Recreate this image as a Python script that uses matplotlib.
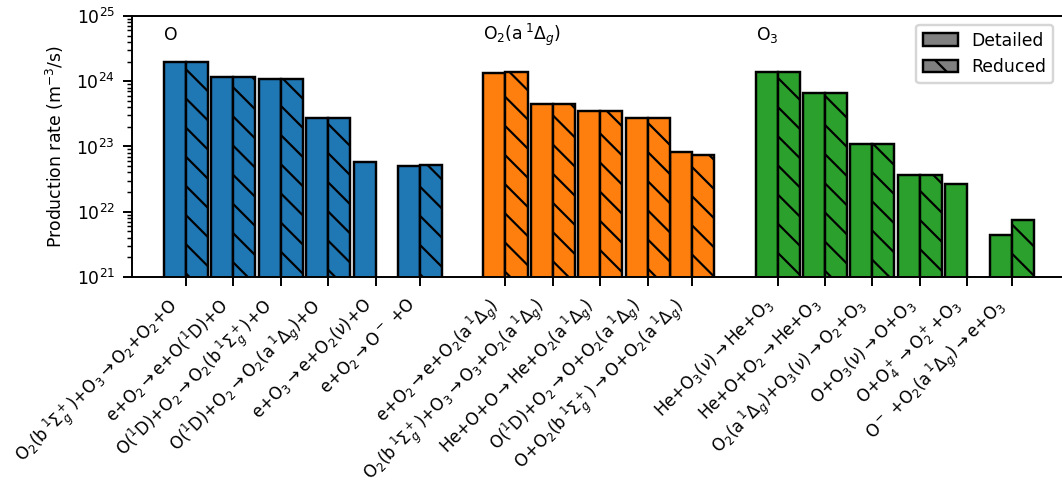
import numpy as np
import matplotlib
matplotlib.use("Agg")
import matplotlib.pyplot as plt
from matplotlib.patches import Patch

# Production reactions grouped by product species
species = ["O", r"O$_2$(a$\,^1\Delta_g$)", r"O$_3$"]
colors = ["#1f77b4", "#ff7f0e", "#2ca02c"]

labels_O = [
    r"O$_2$(b$\,^1\Sigma_g^+$)+O$_3$$\rightarrow$O$_2$+O$_2$+O",
    r"e+O$_2$$\rightarrow$e+O($^1$D)+O",
    r"O($^1$D)+O$_2$$\rightarrow$O$_2$(b$\,^1\Sigma_g^+$)+O",
    r"O($^1$D)+O$_2$$\rightarrow$O$_2$(a$\,^1\Delta_g$)+O",
    r"e+O$_3$$\rightarrow$e+O$_2$($\nu$)+O",
    r"e+O$_2$$\rightarrow$O$^-$ +O",
]
detailed_O = [1.95e24, 1.15e24, 1.08e24, 2.73e23, 5.7e22, 5.06e22]
reduced_O = [2.0e24, 1.15e24, 1.08e24, 2.73e23, np.nan, 5.25e22]

labels_a = [
    r"e+O$_2$$\rightarrow$e+O$_2$(a$\,^1\Delta_g$)",
    r"O$_2$(b$\,^1\Sigma_g^+$)+O$_3$$\rightarrow$O$_3$+O$_2$(a$\,^1\Delta_g$)",
    r"He+O+O$\rightarrow$He+O$_2$(a$\,^1\Delta_g$)",
    r"O($^1$D)+O$_2$$\rightarrow$O+O$_2$(a$\,^1\Delta_g$)",
    r"O+O$_2$(b$\,^1\Sigma_g^+$)$\rightarrow$O+O$_2$(a$\,^1\Delta_g$)",
]
detailed_a = [1.32e24, 4.43e23, 3.5e23, 2.7e23, 8.2e22]
reduced_a = [1.38e24, 4.55e23, 3.55e23, 2.7e23, 7.4e22]

labels_O3 = [
    r"He+O$_3$($\nu$)$\rightarrow$He+O$_3$",
    r"He+O+O$_2$$\rightarrow$He+O$_3$",
    r"O$_2$(a$\,^1\Delta_g$)+O$_3$($\nu$)$\rightarrow$O$_2$+O$_3$",
    r"O+O$_3$($\nu$)$\rightarrow$O+O$_3$",
    r"O+O$_4^+$$\rightarrow$O$_2^+$+O$_3$",
    r"O$^-$ +O$_2$(a$\,^1\Delta_g$)$\rightarrow$e+O$_3$",
]
detailed_O3 = [1.38e24, 6.5e23, 1.08e23, 3.68e22, 2.62e22, 4.38e21]
reduced_O3 = [1.38e24, 6.5e23, 1.11e23, 3.65e22, np.nan, 7.5e21]

groups = [
    (labels_O, detailed_O, reduced_O),
    (labels_a, detailed_a, reduced_a),
    (labels_O3, detailed_O3, reduced_O3),
]

plt.rcParams["font.family"] = "DejaVu Sans"
plt.rcParams["font.size"] = 7.1
plt.rcParams["hatch.linewidth"] = 0.9

dpi = 175
fig = plt.figure(figsize=(1062 / dpi, 488 / dpi), dpi=dpi)
ax = fig.add_axes([0.1243, 0.4324, 0.8757, 0.5348])

width = 0.465
group_gap = 1.8
tail_step = 0.94

start = 0.0
all_pos, all_labels = [], []
for (labels, det, red), col, name in zip(groups, colors, species):
    n = len(labels)
    pos = np.arange(n, dtype=float)
    pos[-1] = pos[-2] + tail_step
    pos += start
    ax.bar(pos, det, width=-width, align="edge", color=col,
           edgecolor="black", linewidth=1.0)
    ax.bar(pos, red, width=width, align="edge", color=col,
           edgecolor="black", linewidth=1.0, hatch="\\\\")
    ax.text(pos[0] - width, 4.3e24, name, ha="left", va="baseline")
    all_pos.extend(pos)
    all_labels.extend(labels)
    start = pos[-1] + group_gap

ax.set_yscale("log")
ax.set_ylim(1e21, 1e25)
ax.set_xlim(-1.139, 18.48)
ax.set_xticks(all_pos)
ax.set_xticklabels(all_labels, rotation=45, ha="right", fontsize=6.85)
ax.set_ylabel(r"Production rate (m$^{-3}$/s)")
ax.spines["right"].set_visible(False)

handles = [
    Patch(facecolor="grey", edgecolor="black", label="Detailed"),
    Patch(facecolor="grey", edgecolor="black", hatch="\\\\", label="Reduced"),
]
ax.legend(handles=handles, loc="upper right")

fig.savefig("out.png", dpi=dpi)
